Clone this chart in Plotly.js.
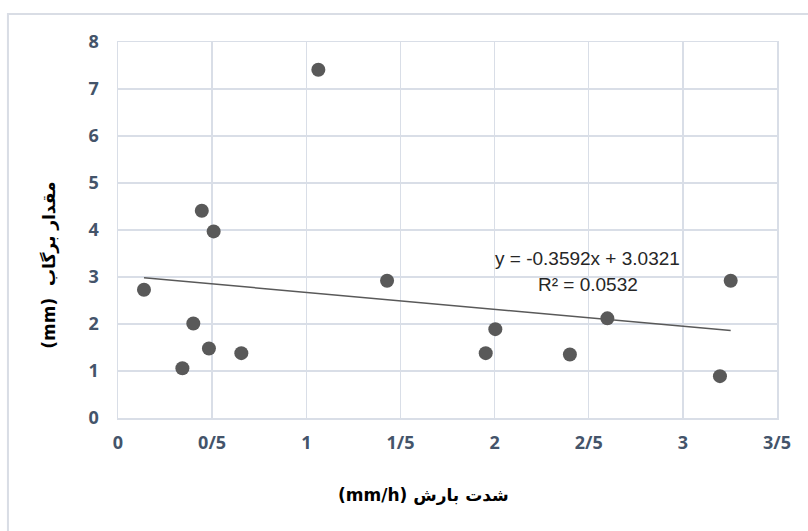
<!DOCTYPE html>
<html>
<head>
<meta charset="utf-8">
<script src="https://cdn.plot.ly/plotly-3.0.1.min.js"></script>
<style>html,body{margin:0;padding:0;background:#fff;}#chart{width:808px;height:531px;}</style>
</head>
<body>
<div id="chart"></div>
<script>
// Data
const rainIntensity = [0.138, 0.342, 0.400, 0.445, 0.483, 0.508, 0.655, 1.064, 1.429, 1.953, 2.004, 2.400, 2.599, 3.197, 3.254];
const interception  = [2.73, 1.06, 2.01, 4.41, 1.48, 3.97, 1.38, 7.41, 2.92, 1.38, 1.89, 1.35, 2.12, 0.89, 2.92];
const trendSlope = -0.3592;
const trendIntercept = 3.0321;
const equationText = "y = -0.3592x + 3.0321";
const r2Text = "R\u00B2 = 0.0532";
const xTickVals = [0, 0.5, 1, 1.5, 2, 2.5, 3, 3.5];
const xTickText = ["0", "0/5", "1", "1/5", "2", "2/5", "3", "3/5"];
const yTickVals = [0, 1, 2, 3, 4, 5, 6, 7, 8];
const xTitle = "\u202Bشدت بارش (mm/h)\u202C";
const yTitle = "\u202Bمقدار برگاب  (mm)\u202C";

const xMin = Math.min(...rainIntensity), xMax = Math.max(...rainIntensity);
const trendX = [xMin, xMax];
const trendY = trendX.map(x => trendSlope * x + trendIntercept);

const gridColor = '#D9DEE7';
const tickFont = {family: 'Open Sans, Noto Sans, sans-serif', size: 18, color: '#44546A', weight: 'bold'};
const titleFont = {family: 'DejaVu Sans, Noto Sans, sans-serif', size: 17, color: '#000000', weight: 'bold'};
const eqFont = {family: 'Liberation Sans, Arial, sans-serif', size: 19, color: '#262626'};

const traces = [
  {x: rainIntensity, y: interception, type: 'scatter', mode: 'markers',
   marker: {color: '#595959', size: 14, line: {width: 0}}, hoverinfo: 'x+y', showlegend: false},
  {x: trendX, y: trendY, type: 'scatter', mode: 'lines',
   line: {color: '#595959', width: 1.5}, hoverinfo: 'skip', showlegend: false}
];

const layout = {
  width: 808, height: 531,
  margin: {l: 118, r: 31, t: 42, b: 113},
  paper_bgcolor: '#ffffff', plot_bgcolor: '#ffffff',
  showlegend: false,
  xaxis: {range: [0, 3.5], tickvals: xTickVals, ticktext: xTickText,
    showgrid: true, gridcolor: gridColor, gridwidth: 1.5, zeroline: false,
    showline: true, mirror: true, linecolor: gridColor, linewidth: 1.5,
    ticks: 'outside', ticklen: 8, tickcolor: 'rgba(0,0,0,0)', tickfont: tickFont, fixedrange: true},
  yaxis: {range: [0, 8], tickvals: yTickVals,
    showgrid: true, gridcolor: gridColor, gridwidth: 1.5, zeroline: false,
    showline: true, mirror: true, linecolor: gridColor, linewidth: 1.5,
    ticks: 'outside', ticklen: 14, tickcolor: 'rgba(0,0,0,0)', tickfont: tickFont, fixedrange: true},
  annotations: [
    {text: equationText, xref: 'x', yref: 'y', x: 2.494, y: 3.40, showarrow: false, font: eqFont},
    {text: r2Text, xref: 'x', yref: 'y', x: 2.494, y: 2.83, showarrow: false, font: eqFont},
    {text: xTitle, xref: 'paper', yref: 'paper', x: 0.463, y: -0.205, showarrow: false,
     xanchor: 'center', yanchor: 'middle', font: titleFont},
    {text: yTitle, xref: 'paper', yref: 'paper', x: -0.103, y: 0.405, showarrow: false,
     textangle: -90, xanchor: 'center', yanchor: 'middle', font: titleFont}
  ],
  shapes: [
    {type: 'rect', xref: 'paper', yref: 'paper', x0: -0.167, x1: 1.2, y0: -0.5, y1: 1.0745,
     line: {color: '#D9DDE5', width: 2}, fillcolor: 'rgba(0,0,0,0)', layer: 'below'}
  ]
};

Plotly.newPlot('chart', traces, layout, {displayModeBar: false, staticPlot: true});
</script>
</body>
</html>
